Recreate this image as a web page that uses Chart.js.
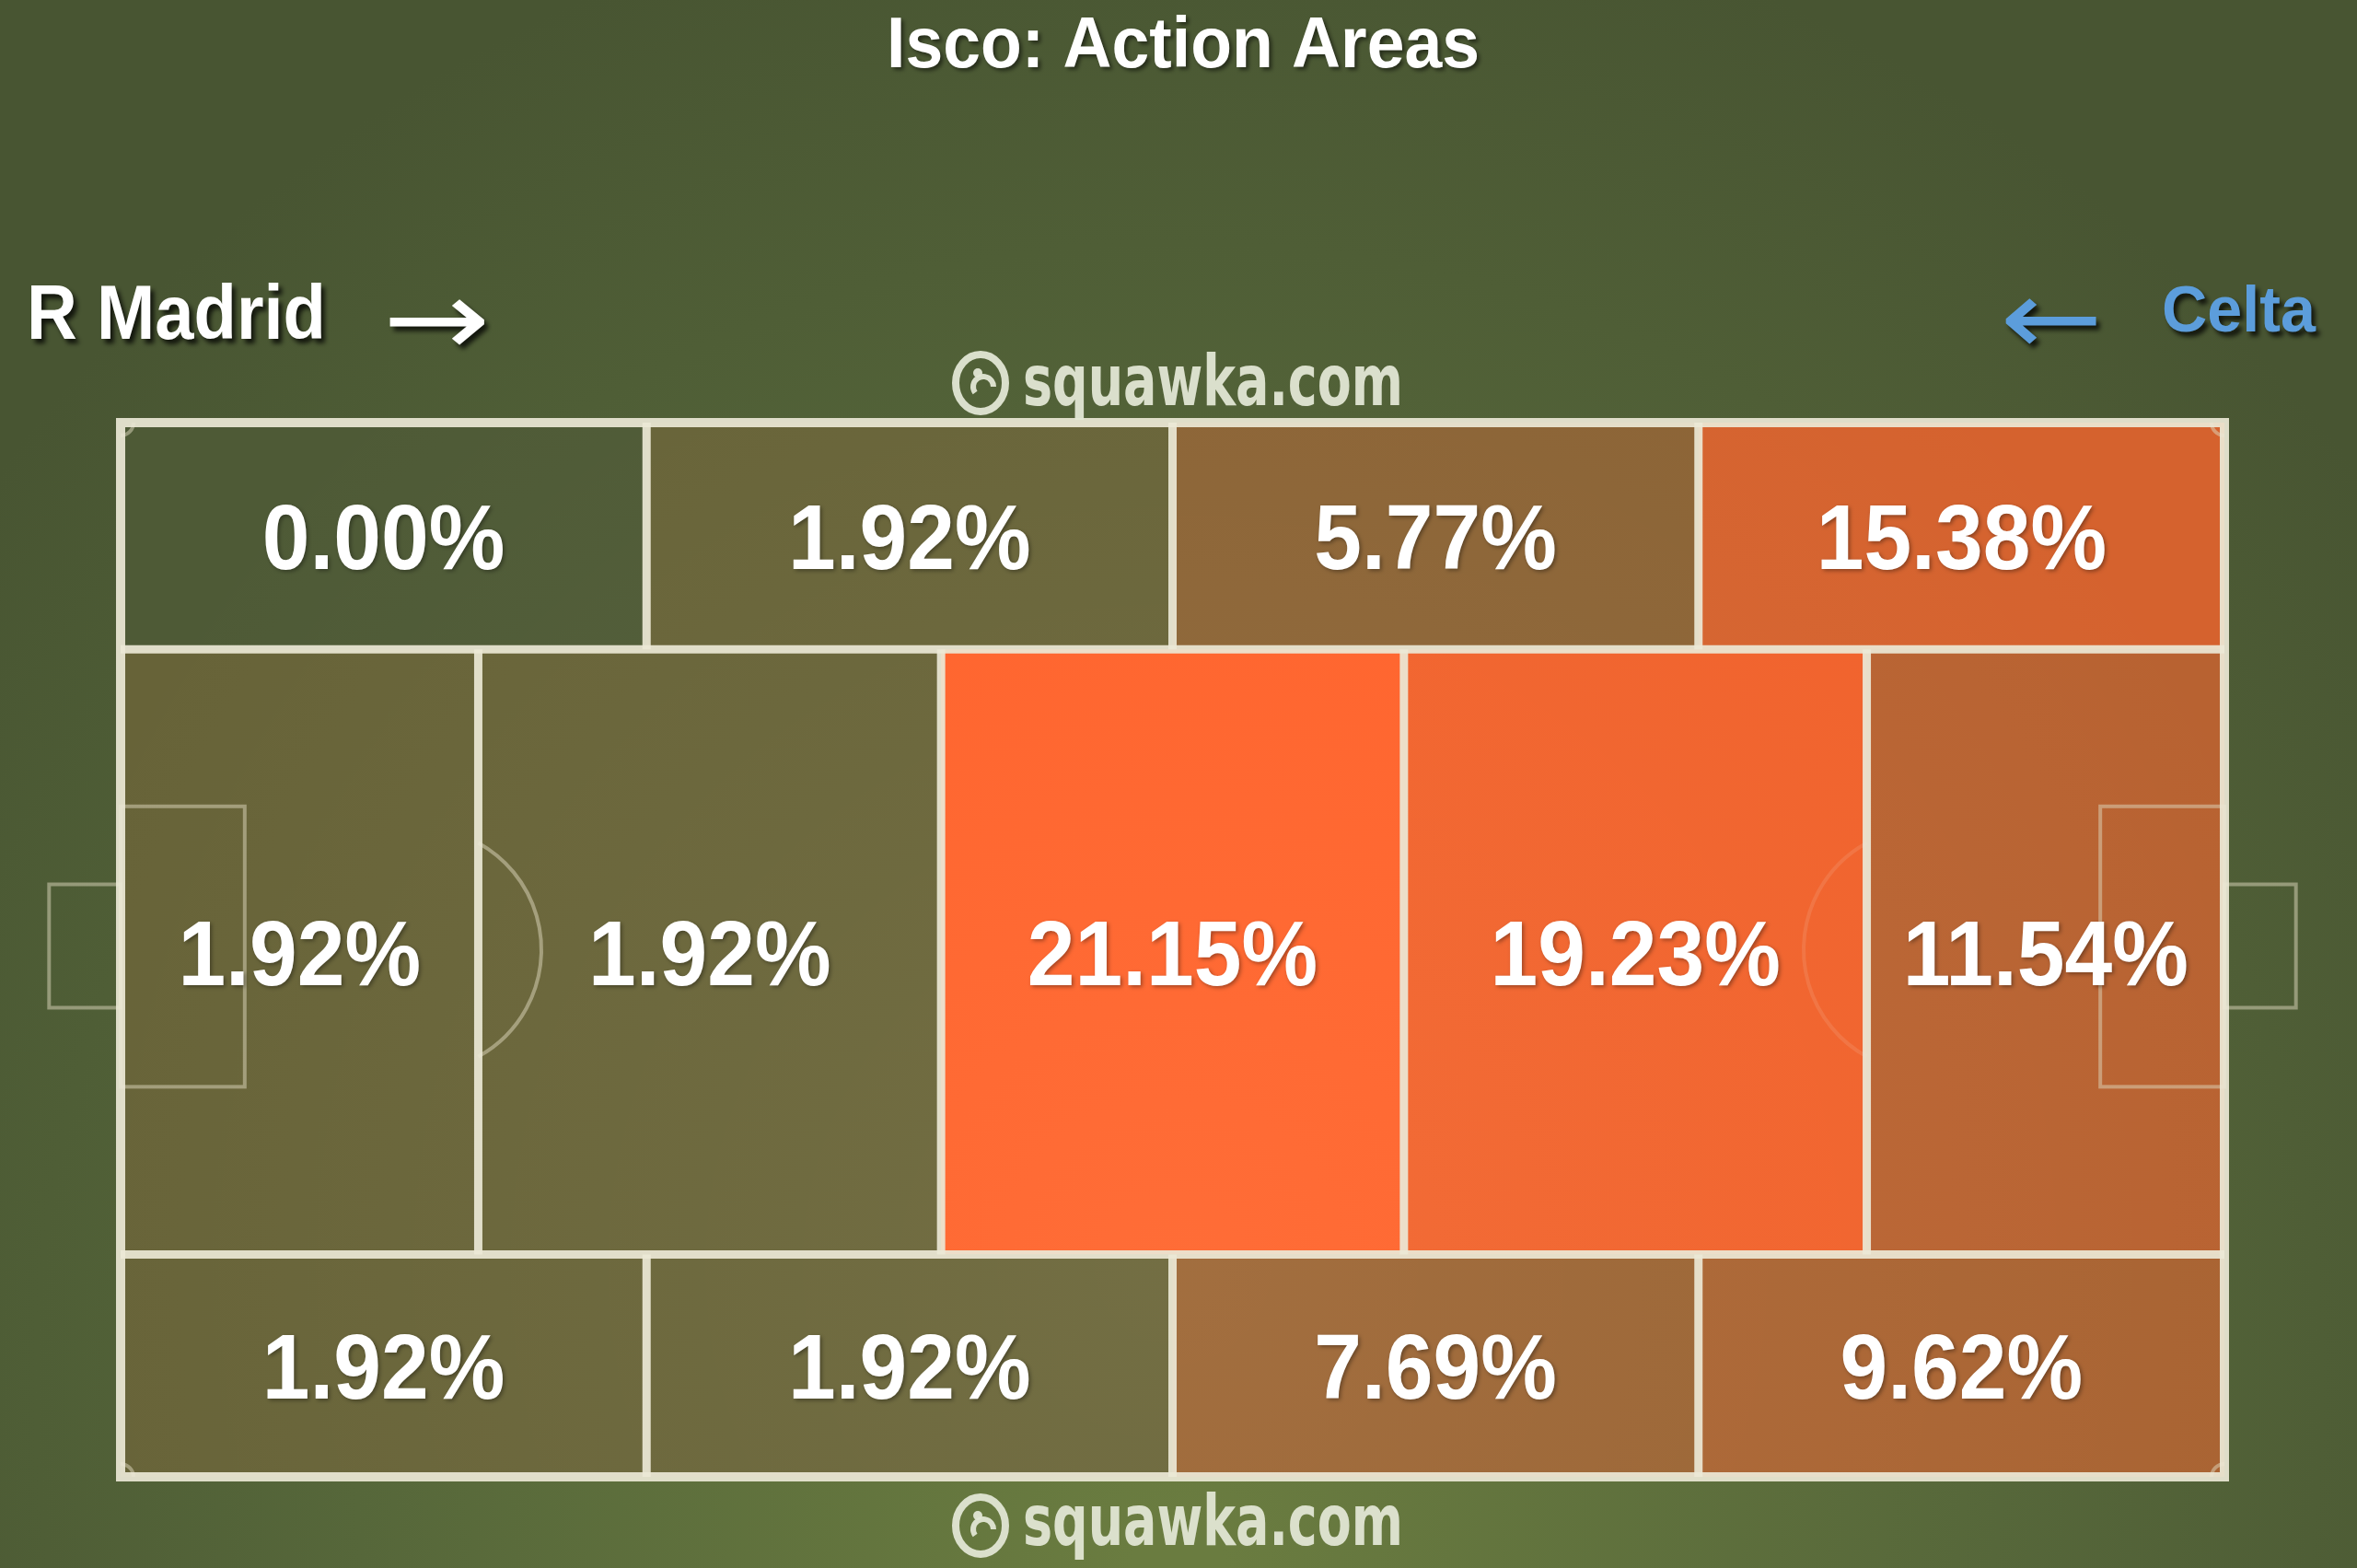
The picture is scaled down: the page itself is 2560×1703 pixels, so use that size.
<!DOCTYPE html>
<html>
<head>
<meta charset="utf-8">
<script src="https://cdn.jsdelivr.net/npm/chart.js@4.4.1/dist/chart.umd.min.js"></script>
<style>
  html, body { margin: 0; padding: 0; background: #4a5733; }
  #wrap { width: 2560px; height: 1703px; }
</style>
</head>
<body>
<div id="wrap"><canvas id="actionChart" width="2560" height="1703"></canvas></div>
<script>
// data
const chartTitle = "Isco: Action Areas";
const teams = ["R Madrid", "Celta"];
const watermark = "squawka.com";
const topValues = [0.00, 1.92, 5.77, 15.38];
const centralValues = [1.92, 1.92, 21.15, 19.23, 11.54];
const bottomValues = [1.92, 1.92, 7.69, 9.62];

// zone boundaries in pitch units (0-100 along and across)
const flankEdges = [0, 25, 50, 75, 100];
const centralEdges = [0, 17, 39, 61, 83, 100];
const rowEdges = [0, 21.5, 78.9, 100];

const rows = [topValues, centralValues, bottomValues];
const rowColEdges = [flankEdges, centralEdges, flankEdges];
const maxValue = Math.max(...rows.flat());

const LINE = "rgba(236,232,214,0.92)";
const FAINT = "rgba(222,216,190,0.5)";

function cellColour(v) {
  const low = [78, 90, 54], mid = [106, 100, 56], high = [255, 97, 42];
  const t = v / maxValue;
  let a, b, f;
  if (t < 0.1) { a = low; b = mid; f = t / 0.1; }
  else { a = mid; b = high; f = Math.pow((t - 0.1) / 0.9, 0.92); }
  const c = a.map((x, i) => Math.round(x + (b[i] - x) * f));
  return "rgb(" + c.join(",") + ")";
}

// one scatter dataset per row, the points sit at the zone centres
const datasets = rows.map((vals, r) => ({
  label: ["top", "central", "bottom"][r],
  data: vals.map((v, i) => ({
    x: (rowColEdges[r][i] + rowColEdges[r][i + 1]) / 2,
    y: (rowEdges[r] + rowEdges[r + 1]) / 2,
    x0: rowColEdges[r][i], x1: rowColEdges[r][i + 1],
    y0: rowEdges[r], y1: rowEdges[r + 1],
    v: v
  })),
  pointRadius: 0,
  pointHoverRadius: 0
}));

// sx < 10 is a plain horizontal scale, otherwise it is the width to fit
function drawText(ctx, text, x, y, font, colour, align, sx, shadow) {
  ctx.save();
  ctx.font = font;
  ctx.fillStyle = colour;
  ctx.textAlign = align;
  ctx.textBaseline = "alphabetic";
  if (sx > 10) sx = sx / ctx.measureText(text).width;
  if (shadow) {
    ctx.shadowColor = shadow.c;
    ctx.shadowOffsetX = shadow.x;
    ctx.shadowOffsetY = shadow.y;
    ctx.shadowBlur = shadow.b;
  }
  ctx.translate(x, y);
  ctx.scale(sx, 1);
  ctx.fillText(text, 0, 0);
  ctx.restore();
}

function drawLogo(ctx, cx, cy, colour) {
  ctx.save();
  ctx.strokeStyle = colour;
  ctx.fillStyle = colour;
  ctx.lineWidth = 8;
  ctx.beginPath();
  ctx.ellipse(cx, cy, 27, 31, 0, 0, Math.PI * 2);
  ctx.stroke();
  ctx.lineWidth = 6;
  ctx.beginPath();
  ctx.arc(cx + 3, cy + 4, 11, Math.PI * 0.8, Math.PI * 2.0);
  ctx.stroke();
  ctx.beginPath();
  ctx.arc(cx - 3, cy - 11, 5, 0, Math.PI * 2);
  ctx.fill();
  ctx.restore();
}

const pitchPlugin = {
  id: "pitch",
  beforeDraw(chart) {
    const ctx = chart.ctx;
    const w = chart.width, h = chart.height;
    const g = ctx.createRadialGradient(w * 0.5, h * 1.0, 50, w * 0.5, h * 0.85, w * 0.62);
    g.addColorStop(0, "#6a7c40");
    g.addColorStop(0.55, "#56673a");
    g.addColorStop(1, "#485532");
    ctx.save();
    ctx.fillStyle = g;
    ctx.fillRect(0, 0, w, h);
    ctx.restore();
  },
  beforeDatasetsDraw(chart) {
    const ctx = chart.ctx;
    const xs = chart.scales.x, ys = chart.scales.y;
    const px = v => xs.getPixelForValue(v);
    const py = v => ys.getPixelForValue(v);
    const area = chart.chartArea;

    // zone fills
    chart.data.datasets.forEach(ds => {
      ds.data.forEach(d => {
        ctx.fillStyle = cellColour(d.v);
        ctx.fillRect(px(d.x0), py(d.y0), px(d.x1) - px(d.x0), py(d.y1) - py(d.y0));
      });
    });
    // soft light over the pitch
    const lg = ctx.createRadialGradient(px(50), py(80), 40, px(50), py(80), 1300);
    lg.addColorStop(0, "rgba(255,240,200,0.08)");
    lg.addColorStop(1, "rgba(255,240,200,0)");
    ctx.fillStyle = lg;
    ctx.fillRect(area.left, area.top, area.right - area.left, area.bottom - area.top);

    // goal boxes, goals, arcs, corners
    ctx.save();
    ctx.strokeStyle = FAINT;
    ctx.lineWidth = 4;
    const unit = px(1) - px(0);
    [false, true].forEach(mirror => {
      const m = v => mirror ? 100 - v : v;
      const bx0 = px(m(0)), bx1 = px(m(5.9));
      ctx.strokeRect(Math.min(bx0, bx1), py(36.4), Math.abs(bx1 - bx0), py(63.0) - py(36.4));
      const gx0 = px(m(-3.4)), gx1 = px(m(0));
      ctx.strokeRect(Math.min(gx0, gx1), py(43.8), Math.abs(gx1 - gx0), py(55.5) - py(43.8));
      const r = 5.8 * unit;
      const cx = px(m(14.2));
      const edge = mirror ? centralEdges[centralEdges.length - 2] : centralEdges[1];
      const th = Math.acos(Math.abs(px(edge) - cx) / r);
      ctx.save();
      if (mirror) ctx.strokeStyle = "rgba(240,150,110,0.35)";
      ctx.beginPath();
      if (mirror) ctx.arc(cx, py(50), r, Math.PI - th, Math.PI + th);
      else ctx.arc(cx, py(50), r, -th, th);
      ctx.stroke();
      ctx.restore();
    });
    const cr = 14;
    ctx.beginPath(); ctx.arc(area.left, area.top, cr, 0, Math.PI / 2); ctx.stroke();
    ctx.beginPath(); ctx.arc(area.right, area.top, cr, Math.PI / 2, Math.PI); ctx.stroke();
    ctx.beginPath(); ctx.arc(area.left, area.bottom, cr, -Math.PI / 2, 0); ctx.stroke();
    ctx.beginPath(); ctx.arc(area.right, area.bottom, cr, Math.PI, Math.PI * 1.5); ctx.stroke();
    ctx.restore();

    // zone lines and outline
    ctx.save();
    ctx.strokeStyle = LINE;
    ctx.lineWidth = 9;
    rows.forEach((vals, r) => {
      const e = rowColEdges[r];
      for (let i = 1; i < e.length - 1; i++) {
        ctx.beginPath();
        ctx.moveTo(px(e[i]), py(rowEdges[r]));
        ctx.lineTo(px(e[i]), py(rowEdges[r + 1]));
        ctx.stroke();
      }
    });
    for (let j = 1; j < rowEdges.length - 1; j++) {
      ctx.beginPath();
      ctx.moveTo(px(0), py(rowEdges[j]));
      ctx.lineTo(px(100), py(rowEdges[j]));
      ctx.stroke();
    }
    ctx.lineWidth = 10;
    ctx.strokeRect(px(0), py(0), px(100) - px(0), py(100) - py(0));
    ctx.restore();

    // value labels
    chart.data.datasets.forEach(ds => {
      ds.data.forEach(d => {
        drawText(ctx, d.v.toFixed(2) + "%", px(d.x), py(d.y) + 36,
          "bold 100px 'Liberation Sans', Arial, sans-serif", "#ffffff", "center", 0.93,
          { c: "rgba(0,0,0,0.35)", x: 2, y: 2, b: 4 });
      });
    });
  },
  afterDraw(chart) {
    const ctx = chart.ctx;
    const shadow = { c: "rgba(0,0,0,0.75)", x: 4, y: 5, b: 5 };
    drawText(ctx, chartTitle, 1285, 73, "bold 77px 'Liberation Sans', Arial, sans-serif",
      "#ffffff", "center", 644, { c: "rgba(0,0,0,0.5)", x: 3, y: 3, b: 4 });
    drawText(ctx, teams[0], 29, 368, "bold 84px 'Liberation Sans', Arial, sans-serif",
      "#ffffff", "left", 325, shadow);
    drawText(ctx, "\u2192", 474, 386, "115px 'DejaVu Sans', sans-serif",
      "#ffffff", "center", 117, shadow);
    drawText(ctx, teams[1], 2515, 360, "bold 70px 'Liberation Sans', Arial, sans-serif",
      "#5c9ddb", "right", 167, shadow);
    drawText(ctx, "\u2190", 2228, 385, "115px 'DejaVu Sans', sans-serif",
      "#5c9ddb", "center", 112, shadow);

    const wmColour = "rgba(226,230,212,0.95)";
    [[416, 440], [1657, 1678]].forEach(([ly, by]) => {
      drawLogo(ctx, 1065, ly, wmColour);
      drawText(ctx, watermark, 1111, by, "bold 76px 'DejaVu Sans Condensed', 'DejaVu Sans', sans-serif",
        wmColour, "left", 413, null);
    });
  }
};

new Chart(document.getElementById("actionChart").getContext("2d"), {
  type: "scatter",
  data: { datasets: datasets },
  options: {
    responsive: false,
    devicePixelRatio: 1,
    animation: false,
    layout: { padding: { left: 131, right: 144, top: 459, bottom: 99 } },
    plugins: { legend: { display: false }, tooltip: { enabled: false }, title: { display: false } },
    scales: {
      x: { type: "linear", min: 0, max: 100, display: false },
      y: { type: "linear", min: 0, max: 100, reverse: true, display: false }
    }
  },
  plugins: [pitchPlugin]
});
</script>
</body>
</html>
